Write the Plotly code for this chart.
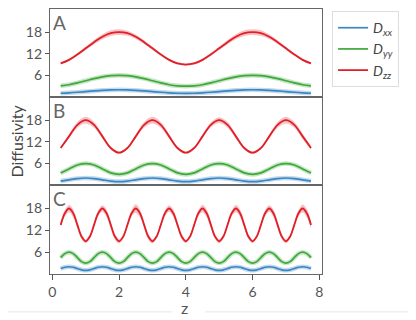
import plotly.graph_objects as go
from plotly.subplots import make_subplots

# sampling positions
z_ab = [0.25, 0.5, 0.75, 1.0, 1.25, 1.5, 1.75, 2.0, 2.25, 2.5, 2.75, 3.0, 3.25, 3.5, 3.75, 4.0,
        4.25, 4.5, 4.75, 5.0, 5.25, 5.5, 5.75, 6.0, 6.25, 6.5, 6.75, 7.0, 7.25, 7.5, 7.75]
z_c = [0.25, 0.375, 0.5, 0.625, 0.75, 0.875, 1.0, 1.125, 1.25, 1.375, 1.5, 1.625, 1.75, 1.875,
       2.0, 2.125, 2.25, 2.375, 2.5, 2.625, 2.75, 2.875, 3.0, 3.125, 3.25, 3.375, 3.5, 3.625,
       3.75, 3.875, 4.0, 4.125, 4.25, 4.375, 4.5, 4.625, 4.75, 4.875, 5.0, 5.125, 5.25, 5.375,
       5.5, 5.625, 5.75, 5.875, 6.0, 6.125, 6.25, 6.375, 6.5, 6.625, 6.75, 6.875, 7.0, 7.125,
       7.25, 7.375, 7.5, 7.625, 7.75]

# panel A
a_dxx = [1.04, 1.15, 1.31, 1.5, 1.69, 1.85, 1.96, 2.0, 1.96, 1.85, 1.69, 1.5, 1.31, 1.15, 1.04, 1.0,
         1.04, 1.15, 1.31, 1.5, 1.69, 1.85, 1.96, 2.0, 1.96, 1.85, 1.69, 1.5, 1.31, 1.15, 1.04]
a_dyy = [3.1, 3.4, 3.9, 4.5, 5.1, 5.6, 5.9, 6.0, 5.9, 5.6, 5.1, 4.5, 3.9, 3.4, 3.1, 3.0,
         3.1, 3.4, 3.9, 4.5, 5.1, 5.6, 5.9, 6.0, 5.9, 5.6, 5.1, 4.5, 3.9, 3.4, 3.1]
a_dzz = [9.3, 10.3, 11.8, 13.5, 15.2, 16.7, 17.7, 18.0, 17.7, 16.7, 15.2, 13.5, 11.8, 10.3, 9.3, 9.0,
         9.3, 10.3, 11.8, 13.5, 15.2, 16.7, 17.7, 18.0, 17.7, 16.7, 15.2, 13.5, 11.8, 10.3, 9.3]
a_spread = [0.3, 0.3, 0.4, 0.5, 0.6, 0.7, 0.8, 0.8, 0.7, 0.6, 0.5, 0.4, 0.3, 0.3, 0.3, 0.3,
            0.3, 0.3, 0.4, 0.5, 0.6, 0.7, 0.8, 0.8, 0.8, 0.6, 0.5, 0.4, 0.3, 0.3, 0.3]

# panel B
b_dxx = [1.15, 1.5, 1.85, 2.0, 1.85, 1.5, 1.15, 1.0, 1.15, 1.5, 1.85, 2.0, 1.85, 1.5, 1.15, 1.0,
         1.15, 1.5, 1.85, 2.0, 1.85, 1.5, 1.15, 1.0, 1.15, 1.5, 1.85, 2.0, 1.85, 1.5, 1.15]
b_dyy = [3.4, 4.5, 5.6, 6.0, 5.6, 4.5, 3.4, 3.0, 3.4, 4.5, 5.6, 6.0, 5.6, 4.5, 3.4, 3.0,
         3.4, 4.5, 5.6, 6.0, 5.6, 4.5, 3.4, 3.0, 3.4, 4.5, 5.6, 6.0, 5.6, 4.5, 3.4]
b_dzz = [10.3, 13.5, 16.7, 18.0, 16.7, 13.5, 10.3, 9.0, 10.3, 13.5, 16.7, 18.0, 16.7, 13.5, 10.3, 9.0,
         10.3, 13.5, 16.7, 18.0, 16.7, 13.5, 10.3, 9.0, 10.3, 13.5, 16.7, 18.0, 16.7, 13.5, 10.3]
b_spread = [0.3, 0.5, 0.8, 0.9, 0.8, 0.6, 0.4, 0.3, 0.3, 0.5, 0.8, 0.9, 0.8, 0.6, 0.4, 0.3,
            0.3, 0.5, 0.7, 0.8, 0.8, 0.6, 0.4, 0.3, 0.3, 0.5, 0.8, 0.9, 0.8, 0.7, 0.5]

# panel C
c_dxx = [1.5, 1.85, 2.0, 1.85, 1.5, 1.15, 1.0, 1.15, 1.5, 1.85, 2.0, 1.85, 1.5, 1.15, 1.0, 1.15,
         1.5, 1.85, 2.0, 1.85, 1.5, 1.15, 1.0, 1.15, 1.5, 1.85, 2.0, 1.85, 1.5, 1.15, 1.0, 1.15,
         1.5, 1.85, 2.0, 1.85, 1.5, 1.15, 1.0, 1.15, 1.5, 1.85, 2.0, 1.85, 1.5, 1.15, 1.0, 1.15,
         1.5, 1.85, 2.0, 1.85, 1.5, 1.15, 1.0, 1.15, 1.5, 1.85, 2.0, 1.85, 1.5]
c_dyy = [4.5, 5.6, 6.0, 5.6, 4.5, 3.4, 3.0, 3.4, 4.5, 5.6, 6.0, 5.6, 4.5, 3.4, 3.0, 3.4,
         4.5, 5.6, 6.0, 5.6, 4.5, 3.4, 3.0, 3.4, 4.5, 5.6, 6.0, 5.6, 4.5, 3.4, 3.0, 3.4,
         4.5, 5.6, 6.0, 5.6, 4.5, 3.4, 3.0, 3.4, 4.5, 5.6, 6.0, 5.6, 4.5, 3.4, 3.0, 3.4,
         4.5, 5.6, 6.0, 5.6, 4.5, 3.4, 3.0, 3.4, 4.5, 5.6, 6.0, 5.6, 4.5]
c_dzz = [13.5, 16.7, 18.0, 16.7, 13.5, 10.3, 9.0, 10.3, 13.5, 16.7, 18.0, 16.7, 13.5, 10.3, 9.0, 10.3,
         13.5, 16.7, 18.0, 16.7, 13.5, 10.3, 9.0, 10.3, 13.5, 16.7, 18.0, 16.7, 13.5, 10.3, 9.0, 10.3,
         13.5, 16.7, 18.0, 16.7, 13.5, 10.3, 9.0, 10.3, 13.5, 16.7, 18.0, 16.7, 13.5, 10.3, 9.0, 10.3,
         13.5, 16.7, 18.0, 16.7, 13.5, 10.3, 9.0, 10.3, 13.5, 16.7, 18.0, 16.7, 13.5]
c_spread = [0.6, 0.9, 1.0, 1.1, 0.9, 0.7, 0.5, 0.6, 0.7, 0.8, 0.9, 1.0, 0.9, 0.8, 0.6, 0.5,
            0.6, 0.9, 1.2, 1.1, 0.9, 0.8, 0.6, 0.5, 0.6, 0.8, 0.9, 1.0, 0.8, 0.7, 0.5, 0.5,
            0.6, 0.8, 1.0, 1.1, 0.9, 0.7, 0.6, 0.5, 0.6, 0.8, 1.0, 1.0, 0.9, 0.7, 0.5, 0.5,
            0.6, 0.8, 0.9, 1.0, 0.9, 0.7, 0.6, 0.5, 0.6, 0.9, 1.1, 1.2, 1.0]

panels = [
    ("A", z_ab, a_dxx, a_dyy, a_dzz, a_spread),
    ("B", z_ab, b_dxx, b_dyy, b_dzz, b_spread),
    ("C", z_c, c_dxx, c_dyy, c_dzz, c_spread),
]

blue = "#3a86c2"
green = "#3fa83a"
red = "#e01f27"
grey = "#555555"
font = "Lato, 'Open Sans', sans-serif"

fig = make_subplots(rows=3, cols=1, shared_xaxes=True, vertical_spacing=0)

for i, (label, z, dxx, dyy, dzz, spread) in enumerate(panels):
    row = i + 1
    lo = [v - s for v, s in zip(dzz, spread)]
    hi = [v + s for v, s in zip(dzz, spread)]
    fig.add_trace(go.Scatter(x=z, y=lo, mode="lines", line=dict(width=0, shape="spline"),
                             showlegend=False, hoverinfo="skip"), row=row, col=1)
    fig.add_trace(go.Scatter(x=z, y=hi, mode="lines", line=dict(width=0, shape="spline"),
                             fill="tonexty", fillcolor="rgba(238,100,110,0.4)",
                             showlegend=False, hoverinfo="skip"), row=row, col=1)
    # light halo under the thin curves
    fig.add_trace(go.Scatter(x=z, y=dxx, mode="lines",
                             line=dict(color="rgba(58,134,194,0.3)", width=4.5, shape="spline"),
                             showlegend=False, hoverinfo="skip"), row=row, col=1)
    fig.add_trace(go.Scatter(x=z, y=dyy, mode="lines",
                             line=dict(color="rgba(63,168,58,0.3)", width=4.5, shape="spline"),
                             showlegend=False, hoverinfo="skip"), row=row, col=1)
    fig.add_trace(go.Scatter(x=z, y=dxx, mode="lines", name="<i>D</i><sub><i>xx</i></sub>",
                             line=dict(color=blue, width=1.7, shape="spline"),
                             showlegend=(i == 0)), row=row, col=1)
    fig.add_trace(go.Scatter(x=z, y=dyy, mode="lines", name="<i>D</i><sub><i>yy</i></sub>",
                             line=dict(color=green, width=1.7, shape="spline"),
                             showlegend=(i == 0)), row=row, col=1)
    fig.add_trace(go.Scatter(x=z, y=dzz, mode="lines", name="<i>D</i><sub><i>zz</i></sub>",
                             line=dict(color=red, width=1.8, shape="spline"),
                             showlegend=(i == 0)), row=row, col=1)

domains = [[0.668, 1.0], [0.335, 0.668], [0.0, 0.335]]
for i in range(3):
    fig.update_yaxes(row=i + 1, col=1, domain=domains[i], range=[0, 24.4],
                     tickvals=[6, 12, 18], ticks="outside", ticklen=4, tickcolor=grey,
                     showline=True, mirror=True, linecolor="#666666", linewidth=1.3,
                     showgrid=False, zeroline=False,
                     tickfont=dict(family=font, size=14, color=grey))
    fig.update_xaxes(row=i + 1, col=1, range=[-0.07, 8.08], showline=True, mirror=True,
                     linecolor="#666666", linewidth=1.3, showgrid=False, zeroline=False,
                     tickvals=[0, 2, 4, 6, 8], ticks="outside" if i == 2 else "",
                     ticklen=5, tickcolor=grey, showticklabels=(i == 2),
                     tickfont=dict(family=font, size=14, color=grey))
    fig.add_annotation(text=panels[i][0], xref="x domain",
                       yref="y domain" if i == 0 else f"y{i + 1} domain",
                       x=0.005, y=1.0, xanchor="left", yanchor="top", showarrow=False,
                       font=dict(family=font, size=19, color="#666666"))

fig.add_annotation(text="Diffusivity", xref="paper", yref="paper", x=-0.125, y=0.5,
                   xanchor="center", yanchor="middle", textangle=-90, showarrow=False,
                   font=dict(family=font, size=16, color="#444444"))
fig.add_annotation(text="z", xref="paper", yref="paper", x=0.496, y=-0.128,
                   xanchor="center", yanchor="middle", showarrow=False,
                   font=dict(family=font, size=16, color=grey))
fig.add_shape(type="line", xref="paper", yref="paper", x0=-0.16, x1=0.449, y0=-0.143, y1=-0.143,
              line=dict(color="#e6e6e6", width=1))
fig.add_shape(type="line", xref="paper", yref="paper", x0=0.57, x1=1.32, y0=-0.143, y1=-0.143,
              line=dict(color="#e6e6e6", width=1))

# the page puts the figure 8px in from the top-left corner, so the figure is
# made 8px smaller and the left/top margins trimmed to keep the plot in place
fig.update_layout(
    width=408, height=312,
    margin=dict(l=42, r=94, t=1, b=46),
    plot_bgcolor="white", paper_bgcolor="white",
    font=dict(family=font, color=grey),
    legend=dict(x=1.037, y=0.992, xanchor="left", yanchor="top", traceorder="normal",
                bordercolor="#dddddd", borderwidth=1,
                font=dict(family=font, size=14, color="#444444")),
)

fig.write_html("out.html")
